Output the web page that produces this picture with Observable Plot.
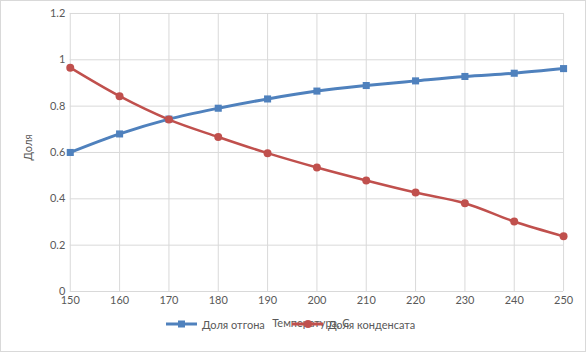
<!DOCTYPE html>
<html><head><meta charset="utf-8">
<script src="https://cdn.jsdelivr.net/npm/d3@7"></script>
<script src="https://cdn.jsdelivr.net/npm/@observablehq/plot@0.6"></script>
<style>
html,body{margin:0;padding:0;background:#fff;}
#wrap{position:relative;width:586px;height:352px;box-sizing:border-box;border:1px solid #d9d9d9;overflow:hidden;font-family:Lato,"Open Sans",sans-serif;}
#wrap > svg{position:absolute;left:-1px;top:-1px;}
#legend{position:absolute;top:316px;left:0;width:586px;font-size:11px;color:#595959;}
.item{position:absolute;display:flex;align-items:center;white-space:nowrap;}
.item svg{display:block;}
</style></head>
<body><div id="wrap"><div id="legend"></div></div>
<script>
const temps = [150,160,170,180,190,200,210,220,230,240,250];
const otgon = [0.600,0.680,0.744,0.791,0.831,0.865,0.889,0.909,0.928,0.942,0.962];
const kondensat = [0.966,0.843,0.742,0.667,0.597,0.535,0.479,0.427,0.381,0.302,0.238];
const seriesNames = ["Доля отгона","Доля конденсата"];
const colors = ["#4F81BD","#C0504D"];
const yTicks = [0,0.2,0.4,0.6,0.8,1,1.2];
const xTicks = [150,160,170,180,190,200,210,220,230,240,250];
const xTitle = "Температура, С";
const yTitle = "Доля";

const rows1 = temps.map((t,i)=>({t, v: otgon[i]}));
const rows2 = temps.map((t,i)=>({t, v: kondensat[i]}));

const chart = Plot.plot({
  width: 586, height: 352,
  marginTop: 13, marginLeft: 70, marginRight: 21, marginBottom: 60,
  style: {fontFamily: "Lato, 'Open Sans', sans-serif", fontSize: "11px", color: "#595959", background: "transparent"},
  x: {domain: [150,250], ticks: xTicks, tickSize: 0, tickPadding: 5, label: null},
  y: {domain: [0,1.2], ticks: yTicks, tickSize: 0, tickPadding: 5, label: null, tickFormat: d => String(+d.toFixed(1))},
  marks: [
    Plot.gridX(xTicks, {stroke: "#d9d9d9", strokeOpacity: 1, strokeWidth: 1}),
    Plot.gridY(yTicks, {stroke: "#d9d9d9", strokeOpacity: 1, strokeWidth: 1}),
    Plot.ruleY([0], {stroke: "#d9d9d9"}),
    Plot.axisX({ticks: xTicks, tickSize: 0, tickPadding: 5, label: null}),
    Plot.axisY({ticks: yTicks, tickSize: 0, tickPadding: 5, label: null, tickFormat: d => String(+d.toFixed(1))}),
    Plot.line(rows1, {x: "t", y: "v", stroke: colors[0], strokeWidth: 3, curve: "catmull-rom"}),
    Plot.dot(rows1, {x: "t", y: "v", fill: colors[0], symbol: "square", r: 4}),
    Plot.line(rows2, {x: "t", y: "v", stroke: colors[1], strokeWidth: 2.5, curve: "catmull-rom"}),
    Plot.dot(rows2, {x: "t", y: "v", fill: colors[1], symbol: "circle", r: 4}),
    Plot.text([xTitle], {frameAnchor: "bottom", dx: -6, dy: 36, text: d => d, fill: "#595959", fontSize: 11}),
    Plot.text([yTitle], {frameAnchor: "left", dx: -42, dy: 8, rotate: -90, text: d => d, fill: "#595959", fontSize: 11})
  ]
});
document.getElementById("wrap").prepend(chart);

const legend = document.getElementById("legend");
const lefts = [165, 291];
seriesNames.forEach((name,i)=>{
  const it = document.createElement("div");
  it.className = "item";
  it.style.left = lefts[i] + "px";
  const ns = "http://www.w3.org/2000/svg";
  const s = document.createElementNS(ns,"svg");
  s.setAttribute("width",32); s.setAttribute("height",14);
  const l = document.createElementNS(ns,"line");
  l.setAttribute("x1",0); l.setAttribute("x2",31); l.setAttribute("y1",7); l.setAttribute("y2",7);
  l.setAttribute("stroke",colors[i]); l.setAttribute("stroke-width",3);
  s.appendChild(l);
  let m;
  if (i===0){ m = document.createElementNS(ns,"rect"); m.setAttribute("x",12); m.setAttribute("y",3.5); m.setAttribute("width",7); m.setAttribute("height",7);}
  else { m = document.createElementNS(ns,"circle"); m.setAttribute("cx",16); m.setAttribute("cy",7); m.setAttribute("r",4);}
  m.setAttribute("fill",colors[i]);
  s.appendChild(m);
  it.appendChild(s);
  const sp = document.createElement("span");
  sp.textContent = name; sp.style.marginLeft = "4px";
  it.appendChild(sp);
  legend.appendChild(it);
});
</script>
</body></html>
